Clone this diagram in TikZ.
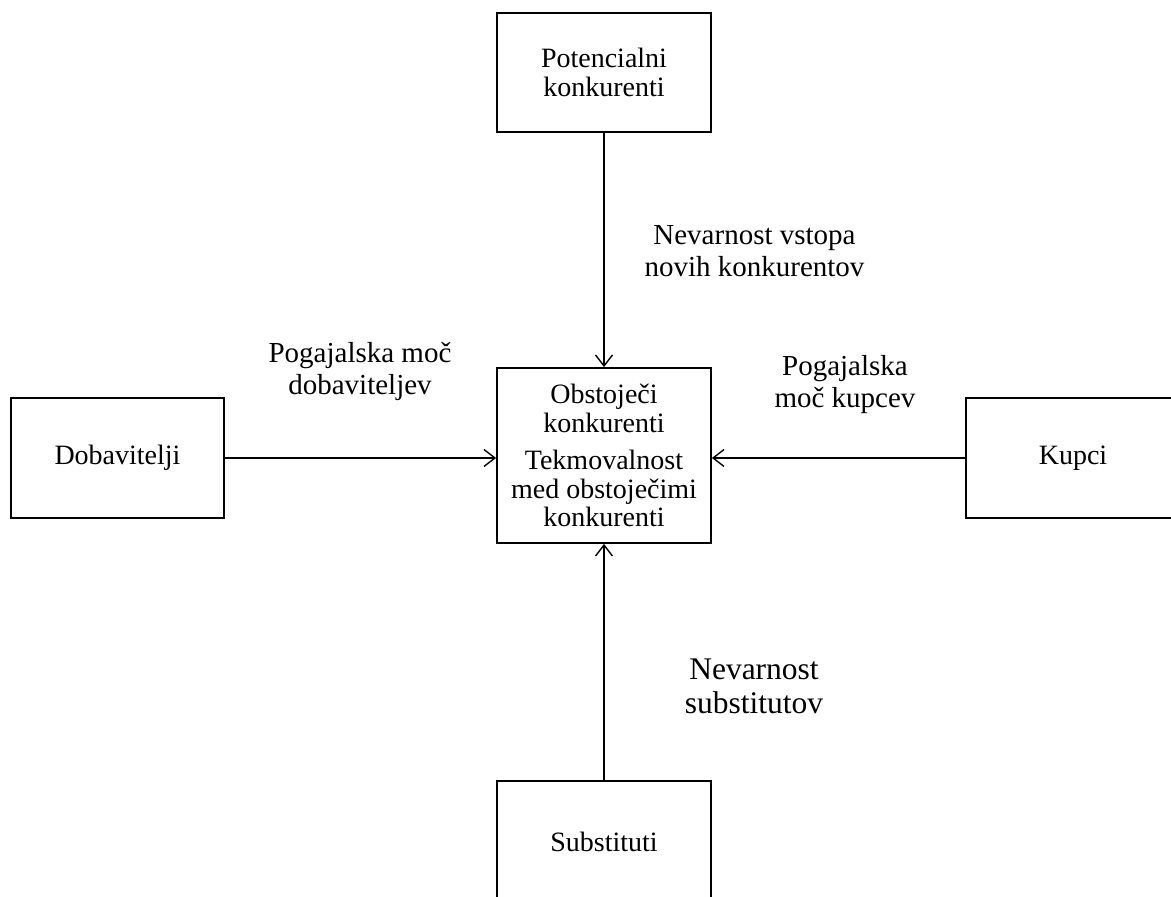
\documentclass[tikz,border=0pt]{standalone}
\usepackage{fontspec}
\setmainfont{Liberation Serif}
\usetikzlibrary{arrows.meta}
\tikzset{
  boxnode/.style={draw=black, line width=1.8pt, minimum width=214pt, inner sep=0pt, align=center, font=\fontsize{28}{28.5}\selectfont},
  lbl/.style={inner sep=0pt, align=center, font=\fontsize{29}{32}\selectfont},
  conn/.style={line width=1.4pt, -{Straight Barb[length=11pt,width=17pt,line width=1.4pt]}}
}
\begin{document}
\begin{tikzpicture}[x=1pt,y=-1pt]
\useasboundingbox (0,0) rectangle (1171,897);
\clip (0,0) rectangle (1171,897);
\node[boxnode, minimum height=119pt] (pot) at (604,72.5) {Potencialni\\konkurenti};
\node[boxnode, minimum height=175pt] (obs) at (604,455.5) {Obstoječi\\konkurenti\\[9pt]Tekmovalnost\\med obstoječimi\\konkurenti};
\node[boxnode, minimum width=213pt, minimum height=120pt] (dob) at (117.5,458) {Dobavitelji};
\node[boxnode, minimum height=120pt] (kup) at (1073,458) {Kupci};
\node[boxnode, minimum height=122pt] (sub) at (604,842) {Substituti};
\draw[conn] (pot.south) -- (obs.north);
\draw[conn] (dob.east) -- (dob.east -| obs.west);
\draw[conn] (kup.west) -- (kup.west -| obs.east);
\draw[conn] (sub.north) -- (obs.south);
\node[lbl] (l1) at (754.5,251) {Nevarnost vstopa\\novih konkurentov};
\node[lbl] (l2) at (360,371) {Pogajalska moč\\dobaviteljev};
\node[lbl] (l3) at (845,385) {Pogajalska\\moč kupcev};
\node[lbl, font=\fontsize{31.5}{34}\selectfont] (l4) at (754,686.5) {Nevarnost\\substitutov};
\end{tikzpicture}
\end{document}
